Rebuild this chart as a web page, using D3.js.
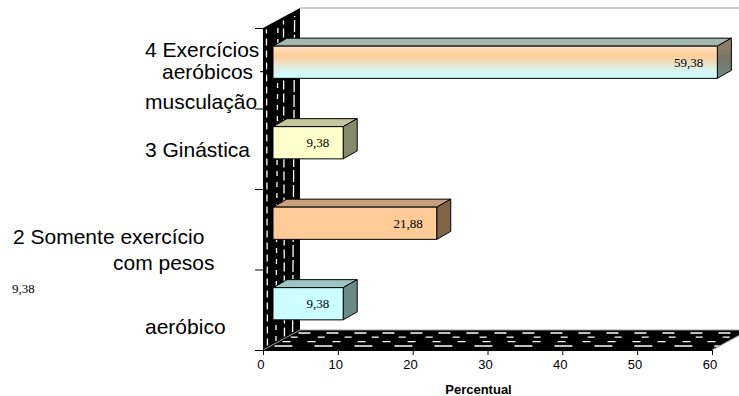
<!DOCTYPE html>
<html lang="pt">
<head>
<meta charset="utf-8">
<script type="text/javascript" src="https://d3js.org/d3.v7.min.js"></script>
<style>
    body { margin: 0; background: #fff; }
    svg { display: block; }
</style>
</head>
<body>
<div id="container"></div>
<script>
    // dados
    const categories = ["1 Somente exercício aeróbico", "2 Somente exercício com pesos", "3 Ginástica", "4 Exercícios aeróbicos + musculação"];
    const values = [9.38, 21.88, 9.38, 59.38];
    const valueLabels = ["9,38", "21,88", "9,38", "59,38"];
    const xTicks = [0, 10, 20, 30, 40, 50, 60];
    const xTitle = "Percentual";

    var width = 739,
        height = 396;

    var sans = "'Liberation Sans', Arial, sans-serif",
        serif = "'Liberation Serif', 'Times New Roman', serif";

    var depth = {dx: 37, dy: 20},      // profundidade da parede / chão
        barDepth = {dx: 14, dy: 8},
        barOff = {dx: 10, dy: 6};

    var x = d3.scaleLinear().domain([0, 60]).range([263, 712]);
    var yEdge = d3.scaleLinear().domain([0, categories.length]).range([350, 28]);
    var y = d3.scaleBand()
                .domain(categories)
                .range([350, 28])
                .paddingInner(0.6)
                .paddingOuter(0.3);

    var svg = d3.select("#container")
                .append("svg")
                .attr("width", width)
                .attr("height", height);

    var defs = svg.append("defs");
    function vgrad(id, stops) {
        var g = defs.append("linearGradient").attr("id", id)
                    .attr("x1", 0).attr("y1", 0).attr("x2", 0).attr("y2", 1);
        stops.forEach(function(s) {
            g.append("stop").attr("offset", s[0]).attr("stop-color", s[1]);
        });
    }
    vgrad("g4front", [[0, "#ffe0c0"], [0.3, "#ffcc99"], [0.75, "#d8f4f0"], [1, "#ccffff"]]);
    vgrad("g4side", [[0, "#9a8068"], [0.5, "#7a7468"], [1, "#6a8a88"]]);

    var fills = [
        {front: "#ccffff", top: "#9ac6c4", side: "#6a8a88"},
        {front: "#ffcc99", top: "#c8a07a", side: "#806448"},
        {front: "#ffffcc", top: "#c6c69c", side: "#86886a"},
        {front: "url(#g4front)", top: "#a4b8b0", side: "url(#g4side)"}
    ];

    var x0 = x(0), x1 = x(60);

    // parede lateral (preta)
    svg.append("polygon")
        .attr("points", [[x0, yEdge(4)], [x0 + depth.dx, yEdge(4) - depth.dy],
                         [x0 + depth.dx, yEdge(0) - depth.dy], [x0, yEdge(0)]].join(" "))
        .attr("fill", "#000");

    // chão (preto)
    svg.append("polygon")
        .attr("points", [[x0, yEdge(0)], [x0 + depth.dx, yEdge(0) - depth.dy],
                         [x1 + depth.dx, yEdge(0) - depth.dy], [x1, yEdge(0)]].join(" "))
        .attr("fill", "#000");

    // linhas tracejadas brancas da parede
    var wallLines = [0.12, 0.35, 0.58, 0.8];
    var wallDash = ["7,5", "5,6", "9,4", "12,3"];
    wallLines.forEach(function(t, i) {
        svg.append("line")
            .attr("x1", x0 + t * depth.dx).attr("y1", yEdge(0) - t * depth.dy - 2)
            .attr("x2", x0 + t * depth.dx + (i % 2 ? 2 : -1)).attr("y2", yEdge(4) - t * depth.dy + 4)
            .attr("stroke", "#fff")
            .attr("stroke-width", 1.3)
            .attr("stroke-dasharray", wallDash[i]);
    });

    // linhas tracejadas brancas do chão
    var floorLines = [0.2, 0.42, 0.64, 0.85];
    var floorDash = ["18,22", "8,17", "7,20", "12,16"];
    floorLines.forEach(function(t, i) {
        svg.append("line")
            .attr("x1", x0 + t * depth.dx + 4).attr("y1", yEdge(0) - t * depth.dy)
            .attr("x2", x1 + t * depth.dx).attr("y2", yEdge(0) - t * depth.dy)
            .attr("stroke", "#fff")
            .attr("stroke-width", 1.3)
            .attr("stroke-dasharray", floorDash[i]);
    });

    // bordas cinzas
    var edge = svg.append("g").attr("fill", "none").attr("stroke", "#999").attr("stroke-width", 1);
    edge.append("line")
        .attr("x1", x0 + depth.dx).attr("y1", yEdge(4) - depth.dy)
        .attr("x2", width).attr("y2", yEdge(4) - depth.dy);
    edge.append("line")
        .attr("x1", x0 + depth.dx).attr("y1", yEdge(0) - depth.dy)
        .attr("x2", x1 + depth.dx).attr("y2", yEdge(0) - depth.dy);
    edge.append("line")
        .attr("x1", x0).attr("y1", yEdge(0))
        .attr("x2", x0 + depth.dx).attr("y2", yEdge(0) - depth.dy);
    edge.append("line")
        .attr("x1", x1).attr("y1", yEdge(0))
        .attr("x2", x1 + depth.dx).attr("y2", yEdge(0) - depth.dy);

    // eixos
    var xAxis = svg.append("g")
        .attr("transform", "translate(0," + yEdge(0) + ")")
        .call(d3.axisBottom(x).tickValues(xTicks).tickSize(5).tickPadding(5));
    xAxis.selectAll("text").attr("font-family", sans)
        .attr("font-size", 13).attr("fill", "#000")
        .attr("dx", "-0.2em");
    xAxis.selectAll("line, path").attr("stroke", "#000");

    var yAxis = svg.append("g")
        .attr("transform", "translate(" + x0 + ",0)")
        .call(d3.axisLeft(yEdge).ticks(4).tickSize(8).tickFormat(""));
    yAxis.selectAll("line, path").attr("stroke", "#000");

    svg.append("text")
        .attr("x", (x0 + x1) / 2 - 9)
        .attr("y", 389)
        .attr("dy", "0.35em")
        .attr("text-anchor", "middle")
        .attr("font-family", sans)
        .attr("font-size", 13)
        .attr("font-weight", "bold")
        .text(xTitle);

    // barras 3D
    var bars = svg.selectAll("g.bar")
        .data(values)
        .enter()
        .append("g")
        .attr("class", "bar")
        .attr("stroke", "#000")
        .attr("stroke-width", 1)
        .attr("stroke-linejoin", "round");

    function geom(d, i) {
        var bx = x(0) + barOff.dx,
            by = y(categories[i]) - barOff.dy,
            w = x(d) - x(0),
            h = y.bandwidth();
        return {bx: bx, by: by, w: w, h: h};
    }

    bars.append("polygon")
        .attr("points", function(d, i) {
            var g = geom(d, i);
            return [[g.bx, g.by], [g.bx + barDepth.dx, g.by - barDepth.dy],
                    [g.bx + g.w + barDepth.dx, g.by - barDepth.dy], [g.bx + g.w, g.by]].join(" ");
        })
        .attr("fill", function(d, i) { return fills[i].top; });

    bars.append("polygon")
        .attr("points", function(d, i) {
            var g = geom(d, i);
            return [[g.bx + g.w, g.by], [g.bx + g.w + barDepth.dx, g.by - barDepth.dy],
                    [g.bx + g.w + barDepth.dx, g.by + g.h - barDepth.dy], [g.bx + g.w, g.by + g.h]].join(" ");
        })
        .attr("fill", function(d, i) { return fills[i].side; });

    bars.append("rect")
        .attr("x", function(d, i) { return geom(d, i).bx; })
        .attr("y", function(d, i) { return geom(d, i).by; })
        .attr("width", function(d, i) { return geom(d, i).w; })
        .attr("height", y.bandwidth())
        .attr("fill", function(d, i) { return fills[i].front; });

    bars.append("text")
        .attr("x", function(d, i) { return geom(d, i).bx + geom(d, i).w - 14; })
        .attr("y", function(d, i) { return geom(d, i).by + y.bandwidth() / 2; })
        .attr("dy", "0.35em")
        .attr("text-anchor", "end")
        .attr("stroke", "none")
        .attr("fill", "#000")
        .attr("font-family", serif)
        .attr("font-size", 13)
        .text(function(d, i) { return valueLabels[i]; });

    // rótulos das categorias (como aparecem na figura)
    var catLines = [
        {t: "4 Exercícios", x: 145, y: 50},
        {t: "aeróbicos +", x: 162, y: 72},
        {t: "musculação", x: 145, y: 102},
        {t: "3 Ginástica", x: 145, y: 150},
        {t: "2 Somente exercício", x: 13, y: 237},
        {t: "com pesos", x: 113, y: 263},
        {t: "aeróbico", x: 145, y: 327}
    ];
    svg.append("g")
        .selectAll("text")
        .data(catLines)
        .enter()
        .append("text")
        .attr("x", function(d) { return d.x; })
        .attr("y", function(d) { return d.y; })
        .attr("dy", "0.35em")
        .attr("font-family", sans)
        .attr("font-size", 21)
        .attr("fill", "#000")
        .text(function(d) { return d.t; });

    svg.append("text")
        .attr("x", 12)
        .attr("y", 288)
        .attr("dy", "0.35em")
        .attr("font-family", serif)
        .attr("font-size", 13)
        .text(valueLabels[0]);
</script>
</body>
</html>
